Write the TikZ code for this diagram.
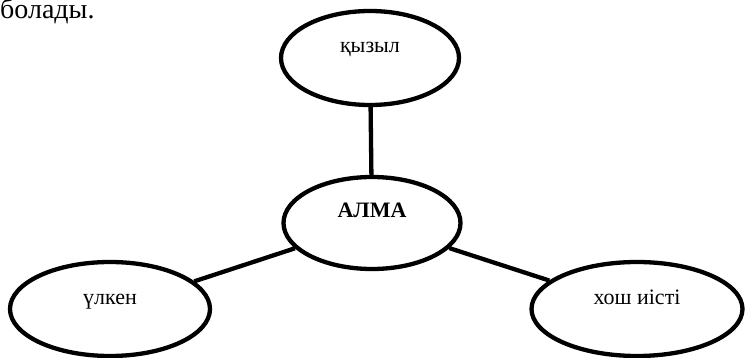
\documentclass[tikz,border=0pt]{standalone}
\usepackage{fontspec}
\setmainfont{Liberation Serif}
\usetikzlibrary{shapes.geometric,positioning}

\begin{document}
\begin{tikzpicture}[x=1pt, y=-1pt, on grid,
        idea/.style={ellipse, draw, line width=4.3pt, inner sep=2pt,
            text height=15pt, text depth=25pt, font=\fontsize{22}{25}\selectfont},
        link/.style={line width=4.3pt}]
            \useasboundingbox (0,0) rectangle (747,358);

            \node[anchor=base west, inner sep=0pt, font=\fontsize{28}{32}\selectfont] (bol) at (0,19) {болады.};

            \node[idea, minimum width=177pt, minimum height=92pt] (alma) at (372,223) {\bfseries АЛМА};
            \node[idea, minimum width=178pt, minimum height=94pt] (qyzyl) [above=165pt of alma, xshift=-2pt] {қызыл};
            \node[idea, minimum width=200pt, minimum height=94pt] (ulken) [below left=86pt and 262pt of alma] {үлкен};
            \node[idea, minimum width=211pt, minimum height=94pt] (hosh) [below right=86pt and 265pt of alma] {хош иісті};

            \path[link]
                (alma) edge (qyzyl)
                (alma) edge (ulken)
                (alma) edge (hosh)
            ;
        \end{tikzpicture}
\end{document}
